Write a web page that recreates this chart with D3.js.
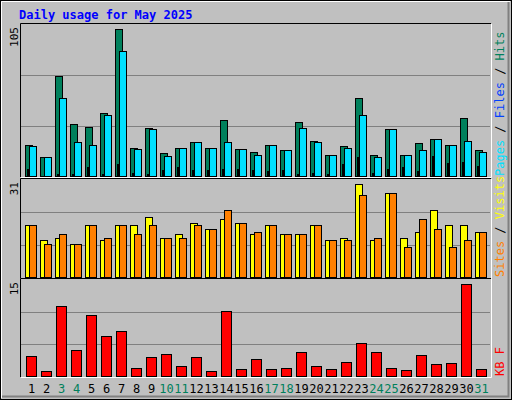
<!DOCTYPE html>
<html><head><meta charset="utf-8">
<script src="https://cdn.jsdelivr.net/npm/d3@7"></script>
<style>body{margin:0}svg{display:block}text{font-family:"DejaVu Sans Mono",monospace}</style>
</head><body>
<script>
var days = d3.range(1, 32);
var weekends = [3, 4, 10, 11, 17, 18, 24, 25, 31];
var hits  = [21.5,13.2,69.4,36,34,43.7,102,19.4,33.3,16,19.4,23.6,19.4,38.9,18.7,16.7,21.5,18,37.5,24.3,14.6,20.8,54.1,14.6,32.6,14.6,22.9,25.7,21.5,40.2,18];
var pages = [20.8,13.2,54.1,23.6,21.5,42.3,86.7,18.7,32.6,13.9,19.4,23.6,19.4,23.6,18.7,14.6,21.5,18,33.3,23.6,14.6,19.4,42.3,13.2,32.6,14.6,18,25.7,21.5,24.3,16.7];
var files = [4.9,0,1.4,1.4,6.2,1.4,8.3,2,1.4,4.2,6.2,4.2,4.2,4.9,4.9,4.2,3.5,4.2,1.4,2,1.4,8.3,13.2,2,4.9,6.2,3.5,13.9,9,9.7,6.9];
var visits = [16.5,11.7,12.6,10.7,16.5,11.7,16.5,16.5,19.3,12.6,13.6,17.4,15.5,18.4,17.4,13.6,16.5,13.6,13.6,16.5,11.7,12.6,29.6,11.7,27,12.6,14.5,21.3,16.5,16.5,14.5];
var sites = [16.5,10.7,13.6,10.7,16.5,12.6,16.5,13.6,16.5,12.6,12.6,16.5,15.5,21.3,17.4,14.5,16.5,13.6,13.6,16.5,11.7,11.7,26.1,12.6,27,9.7,18.4,15.5,9.7,11.7,14.5];
var kbytes = [3.1,0.84,10.9,4.0,9.6,6.2,7.0,1.3,2.9,3.5,1.6,2.9,0.84,10.1,1.15,2.7,1.15,1.3,3.7,1.6,1.15,2.2,5.2,3.7,1.3,1.0,3.3,1.8,2.1,14.3,1.15];

var width = 512, height = 400;
var svg = d3.select("body").append("svg").attr("width", width).attr("height", height);

svg.append("rect").attr("width", width).attr("height", height).attr("fill", "#c0c0c0");
svg.append("rect").attr("x", 0.5).attr("y", 0.5).attr("width", width - 1).attr("height", height - 1)
    .attr("fill", "none").attr("stroke", "#000");
svg.append("path").attr("d", "M1.5,398V1.5H510").attr("stroke", "#fff").attr("fill", "none");
svg.append("path").attr("d", "M2,396.5H508.5V2").attr("stroke", "#808080").attr("stroke-width", 2).attr("fill", "none");

svg.append("text").attr("x", 19).attr("y", 19).attr("fill", "#0000ff")
    .style("font-size", "12px").style("font-weight", "bold").text("Daily usage for May 2025");

var x = d3.scaleBand().domain(days).range([23, 488]).paddingInner(0);

function panel(y0, y1, max) {
  var y = d3.scaleLinear().domain([0, max]).range([y1, y0]);
  var g = svg.append("g");
  [max / 3, 2 * max / 3].forEach(function(v) {
    g.append("line").attr("x1", 21).attr("x2", 490).attr("y1", Math.round(y(v)) + 0.5).attr("y2", Math.round(y(v)) + 0.5)
      .attr("stroke", "#808080");
  });
  g.append("path").attr("d", "M20.5," + (y1 + 1) + "V" + (y0 - 1.5) + "H491").attr("stroke", "#000").attr("fill", "none");
  g.append("path").attr("d", "M21," + (y1 + 1.5) + "H491.5V" + (y0 - 1)).attr("stroke", "#fff").attr("fill", "none");
  svg.append("text").attr("transform", "translate(18," + (y0 + 2) + ") rotate(-90)")
    .attr("text-anchor", "end").style("font-size", "11px").attr("fill", "#000").text(max);
  return y;
}

function bars(data, y, dx, w, color) {
  svg.append("g").selectAll("rect").data(data).enter().append("rect")
    .attr("x", function(d, i) { return x(days[i]) + dx + 0.5; })
    .attr("y", function(d) { return Math.round(y(d)) + 0.5; })
    .attr("width", w)
    .attr("height", function(d) { return Math.max(0, y(0) - Math.round(y(d))); })
    .attr("fill", color).attr("stroke", "#000")
    .style("display", function(d) { return d > 0 ? null : "none"; });
}

var y1 = panel(25, 176, 105);
bars(hits, y1, 2, 7, "#00805c");
bars(pages, y1, 6, 7, "#00e0ff");
bars(files, y1, 4, 1, "#0040ff");

var y2 = panel(180, 277, 31);
bars(visits, y2, 2, 7, "#ffff00");
bars(sites, y2, 6, 7, "#ff8000");

var y3 = panel(280, 376, 15);
bars(kbytes, y3, 3, 10, "#ff0000");

svg.append("g").selectAll("text").data(days).enter().append("text")
  .attr("x", function(d) { return x(d) + 8.5; }).attr("y", 393)
  .attr("text-anchor", "middle").style("font-size", "12px")
  .attr("fill", function(d) { return weekends.indexOf(d) >= 0 ? "#00805c" : "#000"; })
  .text(function(d) { return d; });

function sideLabel(y, parts) {
  var t = svg.append("text").attr("transform", "translate(504," + y + ") rotate(-90)")
    .style("font-size", "12px");
  parts.forEach(function(p) { t.append("tspan").attr("fill", p[1]).text(p[0]); });
}
sideLabel(176, [["Pages", "#00e0ff"], [" / ", "#000"], ["Files", "#0040ff"], [" / ", "#000"], ["Hits", "#00805c"]]);
sideLabel(277, [["Sites", "#ff8000"], [" / ", "#000"], ["Visits", "#ffff00"]]);
sideLabel(376, [["KB F", "#ff0000"]]);
</script>
</body></html>
